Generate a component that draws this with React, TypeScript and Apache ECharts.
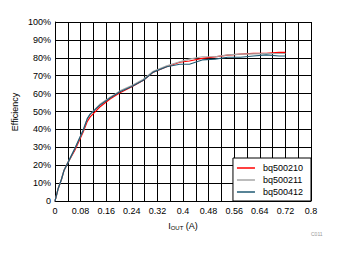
import React, { useEffect, useRef } from "react";
import * as echarts from "echarts";

const xValues = [0, 0.003, 0.01, 0.02, 0.028, 0.042, 0.0625, 0.088, 0.101, 0.11, 0.14, 0.172, 0.203, 0.24, 0.276, 0.307, 0.349, 0.39, 0.42, 0.46, 0.5, 0.54, 0.58, 0.62, 0.66, 0.7, 0.72];
const bq500210 = [0, 2, 7, 12, 17, 22, 28.5, 38.5, 44.5, 47, 52.5, 57, 60.5, 63.8, 67.5, 72, 75, 77.5, 78.2, 79.7, 80.5, 81.5, 82.1, 82.5, 82.5, 83, 83];
const bq500211 = [0, 2, 7, 12, 17, 22, 29.5, 39.5, 46, 48.5, 54, 58, 61.5, 64.5, 68, 72.5, 75.5, 77.8, 79.3, 80.6, 80.6, 81.6, 82.1, 82.2, 82.3, 82.4, 82.4];
const bq500412 = [0, 2, 7, 12, 17, 22, 29.5, 39.5, 46, 48.5, 53.5, 57.5, 61, 64, 67.5, 72, 75, 76.4, 76.4, 78.8, 79.3, 80.3, 80.3, 81, 81.6, 81, 81];
const seriesNames = ["bq500210", "bq500211", "bq500412"];
const seriesColors = ["#ff0000", "#a6a6a6", "#1f5a73"];

export default function App() {
  const ref = useRef<HTMLDivElement>(null);
  useEffect(() => {
    if (!ref.current) return;
    const chart = echarts.init(ref.current, undefined, { renderer: "svg" });
    const all = [bq500210, bq500211, bq500412];
    const ff = "Liberation Sans, Arial, sans-serif";
    chart.setOption({
      animation: false,
      textStyle: { fontFamily: ff },
      grid: { left: 55, right: 28, top: 22, bottom: 53 },
      xAxis: {
        type: "value",
        min: 0,
        max: 0.8,
        interval: 0.04,
        axisLine: { show: true, lineStyle: { color: "#000", width: 1 } },
        axisTick: { show: false },
        splitLine: { show: true, lineStyle: { color: "#000", width: 1 } },
        axisLabel: {
          margin: 5,
          fontSize: 9,
          color: "#000",
          showMaxLabel: true,
          formatter: (v: number) => {
            const k = Math.round(v * 100);
            if (k % 8 !== 0) return "";
            return String(k / 100);
          },
        },
      },
      yAxis: {
        type: "value",
        min: 0,
        max: 100,
        interval: 10,
        axisLine: { show: true, lineStyle: { color: "#000", width: 1 } },
        axisTick: { show: false },
        splitLine: { show: true, lineStyle: { color: "#000", width: 1 } },
        axisLabel: {
          margin: 4,
          fontSize: 9,
          color: "#000",
          formatter: (v: number) => (v === 0 ? "0" : v + "%"),
        },
      },
      legend: {
        orient: "vertical",
        right: 28,
        bottom: 53,
        width: 74,
        padding: [5, 8, 4, 4],
        backgroundColor: "#fff",
        borderColor: "#000",
        borderWidth: 1,
        borderRadius: 0,
        icon: "rect",
        itemWidth: 18,
        itemHeight: 1.5,
        itemGap: 2,
        textStyle: { fontSize: 9, color: "#000", padding: [0, 0, 0, 3], lineHeight: 10 },
        data: seriesNames,
      },
      series: seriesNames.map((name, i) => ({
        name,
        type: "line",
        symbol: "none",
        color: seriesColors[i],
        lineStyle: { color: seriesColors[i], width: 1.2 },
        data: xValues.map((x, j) => [x, all[i][j]]),
        z: 3 + i,
      })),
      graphic: [
        {
          type: "text",
          x: 15,
          y: 112,
          rotation: Math.PI / 2,
          style: {
            text: "Efficiency",
            fontSize: 9,
            fill: "#000",
            align: "center",
            verticalAlign: "middle",
            fontFamily: ff,
          },
        },
        {
          type: "text",
          x: 183,
          y: 226,
          style: {
            text: "{a|I}{b|OUT}{a| (A)}",
            align: "center",
            verticalAlign: "middle",
            fill: "#000",
            fontFamily: ff,
            rich: {
              a: { fontSize: 9, fill: "#000", fontFamily: ff },
              b: { fontSize: 6, fill: "#000", padding: [4, 0, 0, 0], fontFamily: ff },
            },
          },
        },
        {
          type: "text",
          x: 311,
          y: 231,
          style: {
            text: "C011",
            fontSize: 5,
            fill: "#999",
            fontFamily: ff,
          },
        },
      ],
    });
    return () => chart.dispose();
  }, []);
  return <div ref={ref} style={{ width: 339, height: 254, position: "absolute", left: 0, top: 0 }} />;
}
